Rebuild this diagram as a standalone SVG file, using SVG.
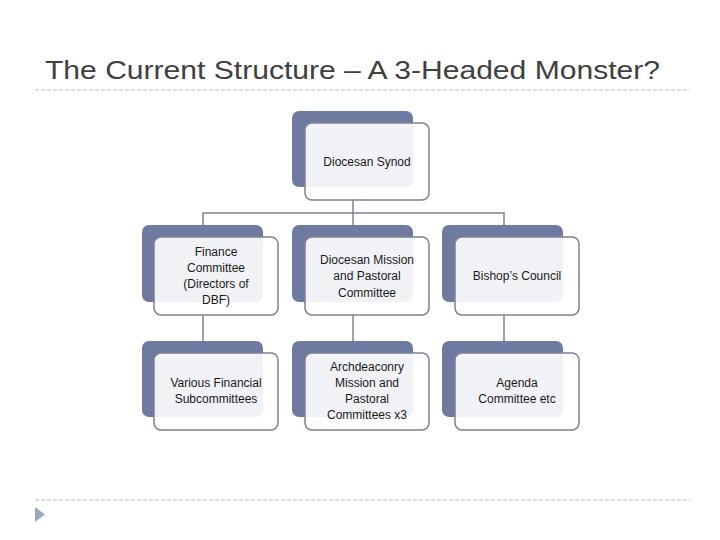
<svg xmlns="http://www.w3.org/2000/svg" width="720" height="540" viewBox="0 0 720 540">
<style>
.back{fill:#6f7aa0}
.front{fill:#ffffff;fill-opacity:0.9;stroke:#7d8194;stroke-width:1.5}
.lbl{font-family:"Liberation Sans",Arial,sans-serif;font-size:12px;fill:#1a1a1a;text-anchor:middle}
.conn{fill:none;stroke:#7d8194;stroke-width:1.5}
.dash{stroke:#b8bcc4;stroke-width:1;stroke-dasharray:4,2}
</style>
<rect width="720" height="540" fill="#ffffff"/>
<text x="45" y="79" font-family="Liberation Sans,Arial,sans-serif" font-size="25" fill="#404040" textLength="615" lengthAdjust="spacingAndGlyphs">The Current Structure – A 3-Headed Monster?</text>
<line class="dash" x1="35" y1="90" x2="690" y2="90"/>
<line class="dash" x1="35" y1="500" x2="690" y2="500"/>
<polygon points="35,507 45,514.5 35,522" fill="#9aa8bc"/>
<g id="connectors">
<path class="conn" d="M353,200 V213 M203,237 V213 H504 V237 M353,213 V237"/>
<path class="conn" d="M203,315 V341 M353,315 V341 M504,315 V341"/>
</g>
<g id="synod">
<rect class="back" x="292" y="111" width="121" height="76" rx="7"/>
<rect class="front" x="305" y="123" width="124" height="77" rx="7"/>
<text class="lbl" x="367" y="166">Diocesan Synod</text>
</g>
<g id="finance">
<rect class="back" x="142" y="225" width="121" height="77" rx="7"/>
<rect class="front" x="154" y="237" width="124" height="78" rx="7"/>
<text class="lbl" x="216" y="256">Finance</text>
<text class="lbl" x="216" y="272">Committee</text>
<text class="lbl" x="216" y="288">(Directors of</text>
<text class="lbl" x="216" y="304">DBF)</text>
</g>
<g id="dmpc">
<rect class="back" x="292" y="225" width="121" height="77" rx="7"/>
<rect class="front" x="305" y="237" width="124" height="78" rx="7"/>
<text class="lbl" x="367" y="264">Diocesan Mission</text>
<text class="lbl" x="367" y="280">and Pastoral</text>
<text class="lbl" x="367" y="297">Committee</text>
</g>
<g id="bishops">
<rect class="back" x="442" y="225" width="121" height="77" rx="7"/>
<rect class="front" x="455" y="237" width="124" height="78" rx="7"/>
<text class="lbl" x="517" y="280">Bishop’s Council</text>
</g>
<g id="subcommittees">
<rect class="back" x="142" y="341" width="121" height="76" rx="7"/>
<rect class="front" x="154" y="353" width="124" height="77" rx="7"/>
<text class="lbl" x="216" y="387">Various Financial</text>
<text class="lbl" x="216" y="403">Subcommittees</text>
</g>
<g id="archdeaconry">
<rect class="back" x="292" y="341" width="121" height="76" rx="7"/>
<rect class="front" x="305" y="353" width="124" height="77" rx="7"/>
<text class="lbl" x="367" y="371">Archdeaconry</text>
<text class="lbl" x="367" y="387">Mission and</text>
<text class="lbl" x="367" y="403">Pastoral</text>
<text class="lbl" x="367" y="419">Committees x3</text>
</g>
<g id="agenda">
<rect class="back" x="442" y="341" width="121" height="76" rx="7"/>
<rect class="front" x="455" y="353" width="124" height="77" rx="7"/>
<text class="lbl" x="517" y="387">Agenda</text>
<text class="lbl" x="517" y="403">Committee etc</text>
</g>
</svg>
